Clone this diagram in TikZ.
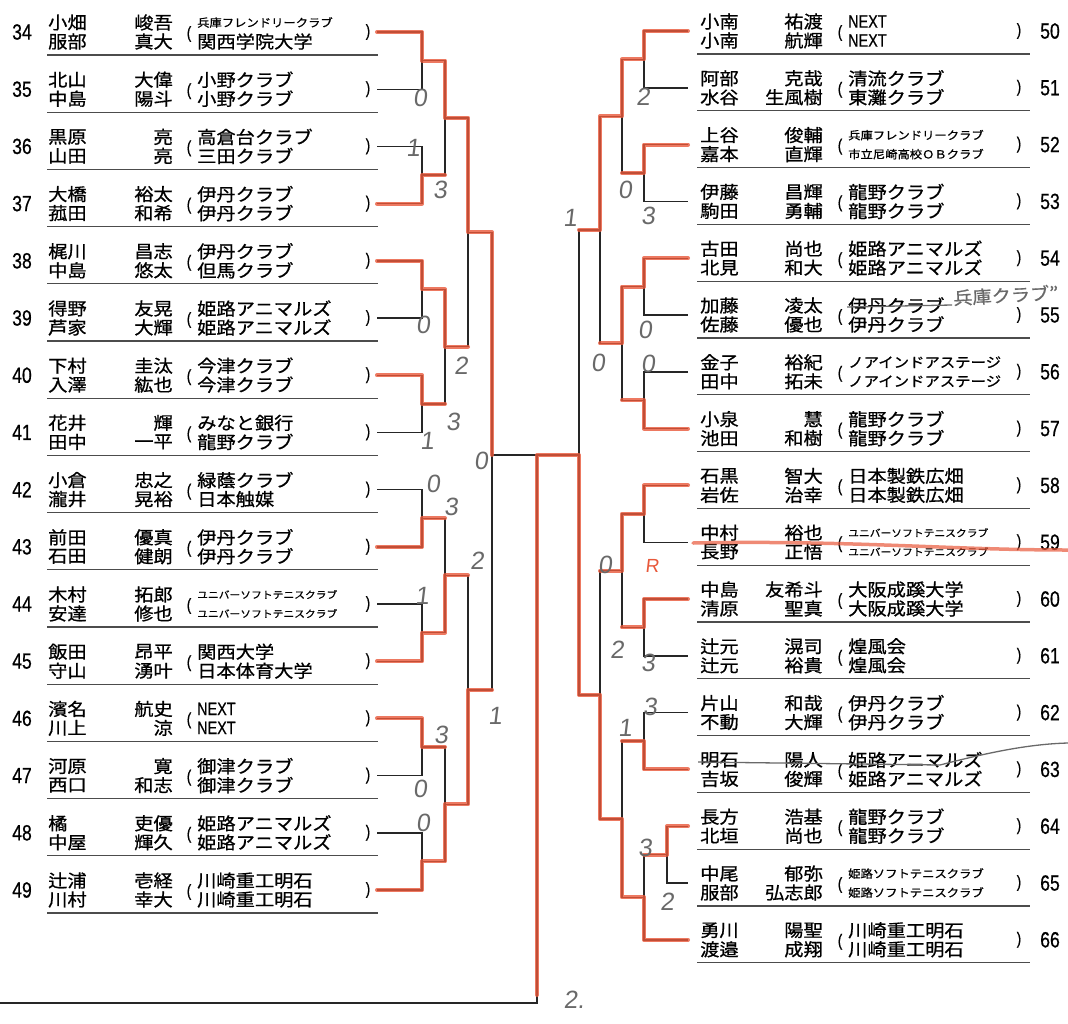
\documentclass[tikz,border=0pt]{standalone}
\usepackage{fontspec}
\newfontfamily\jpf[FakeStretch=1.1, FakeBold=0.8]{Noto Sans CJK JP}
\newfontfamily\numf[FakeStretch=0.8, FakeBold=0.6]{Liberation Sans}
\newfontfamily\handf[FakeSlant=0.12]{Liberation Sans}
\newcommand\jpn{\jpf\fontsize{17.5pt}{19pt}\selectfont}
\newcommand\sclub{\jpf\fontsize{11.2pt}{12pt}\selectfont}
\newcommand\tclub{\jpf\fontsize{9.8pt}{11pt}\selectfont}
\newcommand\mclub{\jpf\fontsize{14pt}{15pt}\selectfont}
\newcommand\nxt{\numf\fontsize{18pt}{18pt}\selectfont}
\definecolor{penred}{RGB}{232,88,58}
\definecolor{pencil}{RGB}{105,105,105}
\begin{document}
\begin{tikzpicture}[x=1pt, y=-1pt,
  num/.style={font=\numf\fontsize{22pt}{22pt}\selectfont, inner sep=0pt},
  jp/.style={font=\jpn, inner sep=0pt, anchor=west},
  jpr/.style={jp, anchor=east},
  paren/.style={font=\numf\fontsize{17pt}{17pt}\selectfont, inner sep=0pt},
  uline/.style={draw=black!70, line width=1.2pt},
  brk/.style={draw=black!85, line width=1.4pt},
  pen/.style={draw=penred, line width=4pt, line join=round, line cap=round, opacity=0.8},
  score/.style={font=\handf\fontsize{25pt}{25pt}\selectfont, text=pencil, inner sep=0pt}]
\useasboundingbox (0,0) rectangle (1068,1023);
% left block 34-49
\foreach \n/\fa/\ga/\ca/\fb/\gb/\cb [count=\i from 0] in {
  34/小畑/峻吾/{\sclub 兵庫フレンドリークラブ}/服部/真大/関西学院大学,
  35/北山/大偉/小野クラブ/中島/陽斗/小野クラブ,
  36/黒原/亮/高倉台クラブ/山田/亮/三田クラブ,
  37/大橋/裕太/伊丹クラブ/菰田/和希/伊丹クラブ,
  38/梶川/昌志/伊丹クラブ/中島/悠太/但馬クラブ,
  39/得野/友晃/姫路アニマルズ/芦家/大輝/姫路アニマルズ,
  40/下村/圭汰/今津クラブ/入澤/紘也/今津クラブ,
  41/花井/輝/みなと銀行/田中/一平/龍野クラブ,
  42/小倉/忠之/緑蔭クラブ/瀧井/晃裕/日本触媒,
  43/前田/優真/伊丹クラブ/石田/健朗/伊丹クラブ,
  44/木村/拓郎/{\tclub ユニバーソフトテニスクラブ}/安達/修也/{\tclub ユニバーソフトテニスクラブ},
  45/飯田/昂平/関西大学/守山/湧叶/日本体育大学,
  46/濱名/航史/{\nxt NEXT}/川上/涼/{\nxt NEXT},
  47/河原/寛/御津クラブ/西口/和志/御津クラブ,
  48/橘/吏優/姫路アニマルズ/中屋/輝久/姫路アニマルズ,
  49/辻浦/壱経/川崎重工明石/川村/幸大/川崎重工明石} {
  \pgfmathsetmacro{\yy}{32+57.2*\i}
  \node[num] (nL\n) at (22,\yy) {\n};
  \node[jp] (faL\n) at (48,\yy-9.5) {\fa};
  \node[jpr] (gaL\n) at (173,\yy-9.5) {\ga};
  \node[jp] (caL\n) at (197,\yy-9.5) {\ca};
  \node[jp] (fbL\n) at (48,\yy+9.5) {\fb};
  \node[jpr] (gbL\n) at (173,\yy+9.5) {\gb};
  \node[jp] (cbL\n) at (197,\yy+9.5) {\cb};
  \node[paren] (opL\n) at (189,\yy+2) {(};
  \node[paren] (clL\n) at (368,\yy) {)};
  \draw[uline] (47,\yy+23) -- (378,\yy+23);
  \coordinate (pL\n) at (377,\yy);
}
% right block 50-66
\foreach \n/\fa/\ga/\ca/\fb/\gb/\cb [count=\i from 0] in {
  50/小南/祐渡/{\nxt NEXT}/小南/航輝/{\nxt NEXT},
  51/阿部/克哉/清流クラブ/水谷/生風樹/東灘クラブ,
  52/上谷/俊輔/{\sclub 兵庫フレンドリークラブ}/嘉本/直輝/{\sclub 市立尼崎高校ＯＢクラブ},
  53/伊藤/昌輝/龍野クラブ/駒田/勇輔/龍野クラブ,
  54/古田/尚也/姫路アニマルズ/北見/和大/姫路アニマルズ,
  55/加藤/凌太/伊丹クラブ/佐藤/優也/伊丹クラブ,
  56/金子/裕紀/{\mclub ノアインドアステージ}/田中/拓未/{\mclub ノアインドアステージ},
  57/小泉/慧/龍野クラブ/池田/和樹/龍野クラブ,
  58/石黒/智大/日本製鉄広畑/岩佐/治幸/日本製鉄広畑,
  59/中村/裕也/{\tclub ユニバーソフトテニスクラブ}/長野/正悟/{\tclub ユニバーソフトテニスクラブ},
  60/中島/友希斗/大阪成蹊大学/清原/聖真/大阪成蹊大学,
  61/辻元/滉司/煌風会/辻元/裕貴/煌風会,
  62/片山/和哉/伊丹クラブ/不動/大輝/伊丹クラブ,
  63/明石/陽人/姫路アニマルズ/吉坂/俊輝/姫路アニマルズ,
  64/長方/浩基/龍野クラブ/北垣/尚也/龍野クラブ,
  65/中尾/郁弥/{\sclub 姫路ソフトテニスクラブ}/服部/弘志郎/{\sclub 姫路ソフトテニスクラブ},
  66/勇川/陽聖/川崎重工明石/渡邉/成翔/川崎重工明石} {
  \pgfmathsetmacro{\yy}{31+56.8*\i}
  \node[num] (nR\n) at (1050,\yy) {\n};
  \node[jp] (faR\n) at (700,\yy-9.5) {\fa};
  \node[jpr] (gaR\n) at (823,\yy-9.5) {\ga};
  \node[jp] (caR\n) at (848,\yy-9.5) {\ca};
  \node[jp] (fbR\n) at (700,\yy+9.5) {\fb};
  \node[jpr] (gbR\n) at (823,\yy+9.5) {\gb};
  \node[jp] (cbR\n) at (848,\yy+9.5) {\cb};
  \node[paren] (opR\n) at (840,\yy+2) {(};
  \node[paren] (clR\n) at (1019,\yy) {)};
  \draw[uline] (697,\yy+23) -- (1030,\yy+23);
  \coordinate (pR\n) at (688,\yy);
}
% junctions
\foreach \m/\x/\y in {a1/422/60.6, a2/422/175, a3/422/289.4, a4/422/403.8,
  a5/422/518.2, a6/422/632.6, a7/422/747, a8/422/861.4,
  b1/445/117.8, b2/445/346.6, b3/445/575.4, b4/445/804.2,
  c1/468/232.2, c2/468/689.8, dl/492/455, f/537/455, dr/579/455,
  fe/537/995, out/0/1003,
  r1/644/59.4, r2/644/173, r3/644/286.6, r4/644/400.2, r5/644/513.8,
  r6/644/627.4, r7/644/741, r0/667/854.6, r8/644/897.2,
  s1/622/116.2, s2/622/343.4, s3/622/570.6, s4/622/819.1,
  t1/600/229.8, t2/600/694.8}
  \coordinate (\m) at (\x,\y);
% printed bracket
\foreach \a/\b/\m in {34/35/a1, 36/37/a2, 38/39/a3, 40/41/a4, 42/43/a5, 44/45/a6, 46/47/a7, 48/49/a8}
  \draw[brk] (pL\a) -| (\m) |- (pL\b);
\foreach \a/\m/\b in {a1/b1/a2, a3/b2/a4, a5/b3/a6, a7/b4/a8, b1/c1/b2, b3/c2/b4, c1/dl/c2}
  \draw[brk] (\a) -| (\m) |- (\b);
\foreach \a/\b/\m in {50/51/r1, 52/53/r2, 54/55/r3, 56/57/r4, 58/59/r5, 60/61/r6, 62/63/r7, 64/65/r0}
  \draw[brk] (pR\a) -| (\m) |- (pR\b);
\draw[brk] (r0) -| (r8) |- (pR66);
\foreach \a/\m/\b in {r1/s1/r2, r3/s2/r4, r5/s3/r6, r7/s4/r8, s1/t1/s2, s3/t2/s4, t1/dr/t2}
  \draw[brk] (\a) -| (\m) |- (\b);
\draw[brk] (dl) -- (dr);
\draw[brk] (f) |- (out);
% winners in red pen
\begin{scope}[shift={(2,-2)}]
  \draw[pen] (pL34) -| (a1) -| (b1) -| (c1) -| (dl);
  \draw[pen] (pL37) -| (a2) -- (a2 -| b1);
  \draw[pen] (pL38) -| (a3) -| (b2) -- (b2 -| c1);
  \draw[pen] (pL40) -| (a4) -- (a4 -| b2);
  \draw[pen] (pL43) -| (a5) -- (a5 -| b3);
  \draw[pen] (pL45) -| (a6) -| (b3) -- (b3 -| c2);
  \draw[pen] (pL46) -| (a7) -- (a7 -| b4);
  \draw[pen] (pL49) -| (a8) -| (b4) -| (c2) -- (c2 -| dl);
  \draw[pen] (pR50) -| (r1) -| (s1) -| (t1) -- (t1 -| dr);
  \draw[pen] (pR52) -| (r2) -- (r2 -| s1);
  \draw[pen] (pR54) -| (r3) -| (s2) -- (s2 -| t1);
  \draw[pen] (pR57) -| (r4) -- (r4 -| s2);
  \draw[pen] (pR58) -| (r5) -| (s3) -- (s3 -| t2);
  \draw[pen] (pR60) -| (r6) -- (r6 -| s3);
  \draw[pen] (pR63) -| (r7) -- (r7 -| s4);
  \draw[pen] (pR64) -| (r0) -- (r0 -| r8);
  \draw[pen] (pR66) -| (r8) -| (s4) -| (t2) -| (dr) -- (f) -- (fe);
\end{scope}
% scores in pencil
\foreach \t/\x/\y [count=\k] in {0/420/98, 1/413/148, 3/440/190, 0/423/325, 2/461/366,
  3/453/422, 1/427/441, 0/481/461, 0/433/484, 3/451/507, 2/477/561, 1/422/596,
  3/441/735, 0/420/789, 0/423/823, 1/495/716,
  2/643/97, 0/625/190, 3/648/216, 1/570/218, 0/645/330, 0/648/364, 0/598/363,
  0/605/565, 2/617/650, 3/648/663, 3/650/707, 1/625/728, 3/645/848, 2/667/902, 2./574/1000}
  \node[score] (sc\k) at (\x,\y) {\t};
\node[score, text=penred, font=\handf\fontsize{19pt}{19pt}\selectfont] (mkR) at (652,566) {R};
% pencil corrections
\draw[pencil, line width=1.3pt] (847,307) -- (952,305);
\node[jp, text=pencil, rotate=3] (hw55) at (953,298) {兵庫クラブ”};
\draw[pencil, line width=1.3pt] (698,762) -- (940,765) .. controls (990,752) and (1030,744) .. (1068,743);
\draw[pen, line width=3.5pt, opacity=0.7] (693,543) .. controls (850,540) and (950,550) .. (1068,550);
\end{tikzpicture}
\end{document}
